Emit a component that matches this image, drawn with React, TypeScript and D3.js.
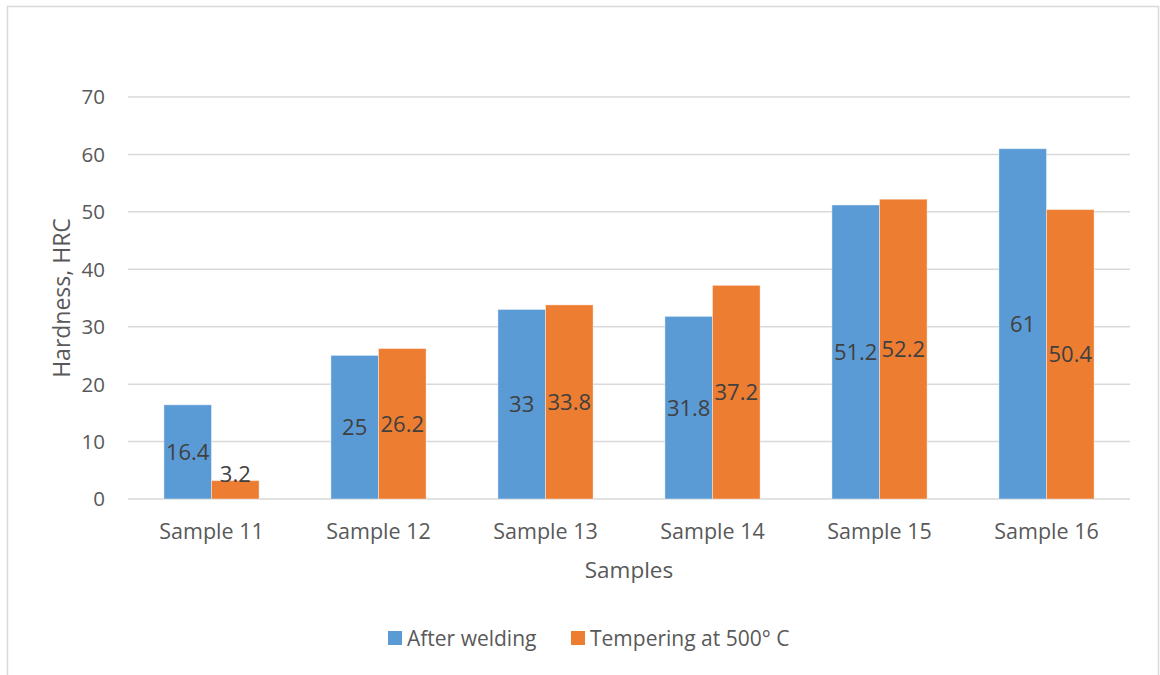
import React from "react";
import * as d3 from "d3";

const categories = ["Sample 11", "Sample 12", "Sample 13", "Sample 14", "Sample 15", "Sample 16"];
const afterWelding = [16.4, 25, 33, 31.8, 51.2, 61];
const tempering = [3.2, 26.2, 33.8, 37.2, 52.2, 50.4];
const seriesNames = ["After welding", "Tempering at 500° C"];
const yTicks = [0, 10, 20, 30, 40, 50, 60, 70];

const W = 1160;
const H = 675;
const colors = ["#5B9BD5", "#ED7D31"];
const FONT = "'Open Sans', 'Liberation Sans', sans-serif";

export default function App() {
  const left = 128, right = 1130, top = 97, bottom = 499;
  const x = d3.scaleBand<string>().domain(categories).range([left, right]).paddingInner(0).paddingOuter(0);
  const y = d3.scaleLinear().domain([0, 70]).range([bottom, top]);
  const groupW = x.bandwidth() * 0.57;
  const x1 = d3.scaleBand<number>().domain([0, 1]).range([0, groupW]);
  const series = [afterWelding, tempering];

  return (
    <div style={{ position: "absolute", left: 0, top: 0 }}>
      <svg width={W} height={H} style={{ display: "block", fontFamily: FONT }}>
        <rect x={0} y={0} width={W} height={H} fill="#fff" />
        <rect x={7.5} y={6.5} width={1151} height={700} fill="none" stroke="#d9d9d9" strokeWidth={1.5} />
        {yTicks.map((t) => (
          <g key={t}>
            <line x1={left} x2={right} y1={y(t)} y2={y(t)} stroke="#d9d9d9" strokeWidth={1.5} />
            <text x={105} y={y(t)} dy="0.36em" textAnchor="end" fontSize={20.5} fill="#595959">{t}</text>
          </g>
        ))}
        {categories.map((c, i) => {
          const gx = (x(c) as number) + (x.bandwidth() - groupW) / 2;
          return (
            <g key={c}>
              {series.map((s, si) => {
                const v = s[i];
                const bx = gx + (x1(si) as number);
                const bw = x1.bandwidth();
                const by = y(v);
                const bh = bottom - by;
                const center = by + bh / 2;
                const ly = bh < 26 ? by + 1 : center;
                const dy = bh < 26 ? "0em" : "0.36em";
                return (
                  <g key={si}>
                    <rect x={bx} y={by} width={bw} height={bh} fill={colors[si]} stroke="#ffffff" strokeOpacity={0.4} strokeWidth={1} />
                    <text x={bx + bw / 2} y={ly} dy={dy} textAnchor="middle" fontSize={22} fill="#404040">{v}</text>
                  </g>
                );
              })}
              <text x={(x(c) as number) + x.bandwidth() / 2} y={531} dy="0.36em" textAnchor="middle" fontSize={21.5} fill="#595959">{c}</text>
            </g>
          );
        })}
        <text x={629} y={570} dy="0.36em" textAnchor="middle" fontSize={22.5} fill="#595959">Samples</text>
        <text transform={`translate(62,${(top + bottom) / 2}) rotate(-90)`} dy="0.36em" textAnchor="middle" fontSize={23} fill="#595959">Hardness, HRC</text>
        <g>
          <rect x={388} y={631} width={14} height={14} fill={colors[0]} />
          <text x={407} y={638} dy="0.36em" fontSize={21} fill="#595959">{seriesNames[0]}</text>
          <rect x={571} y={631} width={14} height={14} fill={colors[1]} />
          <text x={590} y={638} dy="0.36em" fontSize={21} fill="#595959">{seriesNames[1]}</text>
        </g>
      </svg>
    </div>
  );
}
